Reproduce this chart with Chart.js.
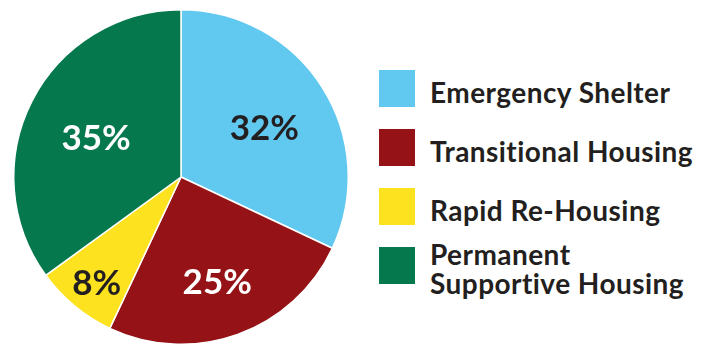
<!DOCTYPE html>
<html lang="en">
<head>
    <meta charset="UTF-8">
    <title>Housing Program Mix</title>
    <script src="https://cdn.jsdelivr.net/npm/chart.js@4.4.1/dist/chart.umd.min.js"></script>
    <style>
        body { margin: 0; background: #fff; font-family: Lato, sans-serif; }
        .wrap { position: relative; width: 707px; height: 345px; overflow: hidden; }
        .pie-box { position: absolute; left: 0; top: 0; width: 362px; height: 345px; }
        .legend { position: absolute; left: 379px; top: 70px; margin: 0; padding: 0; list-style: none; }
        .legend li { position: relative; height: 59px; }
        .legend .swatch { position: absolute; left: 0; top: 0; width: 36px; height: 37px; }
        .legend .text { position: absolute; left: 51px; top: 22px; transform: translateY(-50%);
            font-weight: 700; font-size: 28px; letter-spacing: 0.45px; line-height: 29px;
            color: #231f20; white-space: nowrap; }
    </style>
</head>
<body>
<div class="wrap">
    <div class="pie-box"><canvas id="pie"></canvas></div>
    <ul class="legend" id="legend"></ul>
</div>
<script>
    const categories = ['Emergency Shelter', 'Transitional Housing', 'Rapid Re-Housing', 'Permanent\nSupportive Housing'];
    const shares = [32, 25, 8, 35];
    const sliceColors = ['#61c8f0', '#951316', '#fde21f', '#05784e'];
    const labelColors = ['#231f20', '#ffffff', '#231f20', '#ffffff'];

    // how far out (fraction of radius) each percentage sits
    const labelRadius = [0.59, 0.64, 0.79, 0.57];

    const pctLabels = {
        id: 'pctLabels',
        afterDatasetsDraw(chart) {
            const ctx = chart.ctx;
            const meta = chart.getDatasetMeta(0);
            ctx.save();
            ctx.font = '700 35px Lato, sans-serif';
            ctx.textAlign = 'center';
            ctx.textBaseline = 'middle';
            meta.data.forEach((arc, i) => {
                const p = arc.getProps(['x', 'y', 'startAngle', 'endAngle', 'outerRadius'], true);
                const mid = (p.startAngle + p.endAngle) / 2;
                const r = p.outerRadius * labelRadius[i];
                ctx.fillStyle = labelColors[i];
                ctx.fillText(shares[i] + '%', p.x + Math.cos(mid) * r, p.y + Math.sin(mid) * r + 5);
            });
            ctx.restore();
        }
    };

    new Chart(document.getElementById('pie'), {
        type: 'pie',
        data: {
            labels: categories,
            datasets: [{
                data: shares,
                backgroundColor: sliceColors,
                borderColor: '#ffffff',
                borderWidth: 1.5
            }]
        },
        options: {
            responsive: true,
            maintainAspectRatio: false,
            animation: false,
            layout: { padding: { top: 9, bottom: 0, left: 0, right: 0 } },
            plugins: {
                legend: { display: false },
                tooltip: { enabled: false }
            }
        },
        plugins: [pctLabels]
    });

    // legend on the right
    const legend = document.getElementById('legend');
    categories.forEach((name, i) => {
        const li = document.createElement('li');
        const sw = document.createElement('span');
        sw.className = 'swatch';
        sw.style.background = sliceColors[i];
        const txt = document.createElement('span');
        txt.className = 'text';
        txt.innerHTML = name.replace('\n', '<br>');
        li.appendChild(sw);
        li.appendChild(txt);
        legend.appendChild(li);
    });
</script>
</body>
</html>
